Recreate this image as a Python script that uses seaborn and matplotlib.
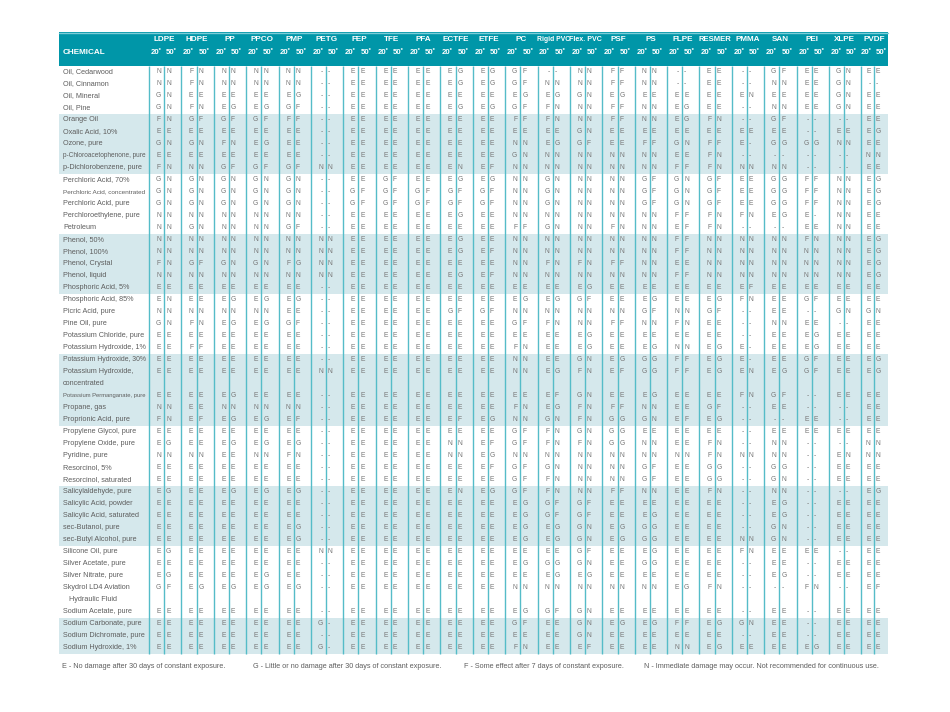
import numpy as np
import matplotlib
matplotlib.use("Agg")
import matplotlib.pyplot as plt
from matplotlib.colors import ListedColormap
from matplotlib.patches import Rectangle
import seaborn as sns

# --- data -------------------------------------------------------------
materials = ["LDPE", "HDPE", "PP", "PPCO", "PMP", "PETG", "FEP", "TFE", "PFA", "ECTFE",
             "ETFE", "PC", "Rigid PVC", "Flex. PVC", "PSF", "PS", "FLPE", "RESMER",
             "PMMA", "SAN", "PEI", "XLPE", "PVDF"]
temps = ["20˚", "50˚"]

chemicals = [
    "Oil, Cedarwood", "Oil, Cinnamon", "Oil, Mineral", "Oil, Pine",
    "Orange Oil", "Oxalic Acid, 10%", "Ozone, pure", "p-Chloroacetophenone, pure",
    "p-Dichlorobenzene, pure", "Perchloric Acid, 70%", "Perchloric Acid, concentrated",
    "Perchloric Acid, pure", "Perchloroethylene, pure", "Petroleum", "Phenol, 50%",
    "Phenol, 100%", "Phenol, Crystal", "Phenol, liquid", "Phosphoric Acid, 5%",
    "Phosphoric Acid, 85%", "Picric Acid, pure", "Pine Oil, pure",
    "Potassium Chloride, pure", "Potassium Hydroxide, 1%", "Potassium Hydroxide, 30%",
    "Potassium Hydroxide,\nconcentrated", "Potassium Permanganate, pure", "Propane, gas",
    "Proprionic Acid, pure", "Propylene Glycol, pure", "Propylene Oxide, pure",
    "Pyridine, pure", "Resorcinol, 5%", "Resorcinol, saturated", "Salicylaldehyde, pure",
    "Salicylic Acid, powder", "Salicylic Acid, saturated", "sec-Butanol, pure",
    "sec-Butyl Alcohol, pure", "Silicone Oil, pure", "Silver Acetate, pure",
    "Silver Nitrate, pure", "Skydrol LD4 Aviation\n   Hydraulic Fluid",
    "Sodium Acetate, pure", "Sodium Carbonate, pure", "Sodium Dichromate, pure",
    "Sodium Hydroxide, 1%",
]

# one pair (20˚, 50˚) per material, in the order of `materials`
ratings = [
    "NN FN NN NN NN -- EE EE EE EG EG GF -- NN FF NN -- EE -- GF EE GN EE",
    "NN FN NN NN NN -- EE EE EE EG EG GF NN NN FF NN -- EE -- NN EE GN --",
    "GN EE EE EE EG -- EE EE EE EE EE EG EG GN EG EE EE EE EN EE EE GN EE",
    "GN FN EG EG GF -- EE EE EE EG EG GF FN NN FF NN EG EE -- NN EE GN EE",
    "FN GF GF GF FF -- EE EE EE EE EE FF FN NN FF NN EG FN -- GF -- -- EE",
    "EE EE EE EE EE -- EE EE EE EE EE EE EE GN EE EE EE EE EE EE -- EE EG",
    "GN GN FN EG EE -- EE EE EE EE EE NN EG GF EE FF GN FF E- GG GG NN EE",
    "EE EE EE EE EE -- EE EE EE EE EE GN NN NN NN NN EE FN -- -- -- -- NN",
    "FN NN GF GF GF NN EE EE EE EN EF NN NN NN NN NN FF FN NN NN -- -- EE",
    "GN GN GN GN GN -- EE GF EE EG EG NN GN NN NN GF GN GF EE GG FF NN EG",
    "GN GN GN GN GN -- GF GF GF GF GF NN GN NN NN GF GN GF EE GG FF NN EG",
    "GN GN GN GN GN -- GF GF GF GF GF NN GN NN NN GF GN GF EE GG FF NN EG",
    "NN NN NN NN NN -- EE EE EE EG EE NN NN NN NN NN FF FN FN EG E- NN EE",
    "NN GN NN NN GF -- EE EE EE EE EE FF GN NN FN NN EF FN -- -- EE NN EE",
    "NN NN NN NN NN NN EE EE EE EG EE NN NN NN NN NN FF NN NN NN FN NN EG",
    "NN NN NN NN NN NN EE EE EE EG EF NN NN NN NN NN FF NN NN NN NN NN EG",
    "FN GF GN GN FG NN EE EE EE EE EE NN FN FN FF NN EE NN NN NN NN NN EG",
    "NN NN NN NN NN NN EE EE EE EG EF NN NN NN NN NN FF NN NN NN NN NN EG",
    "EE EE EE EE EE -- EE EE EE EE EE EE EE EG EE EE EE EE EF EE EE EE EE",
    "EN EE EG EG EG -- EE EE EE EE EE EG EG GF EE EG EE EG FN EE GF EE EE",
    "NN NN NN NN EE -- EE EE EE GF GF NN NN NN NN GF NN GF -- EE -- GN GN",
    "GN FN EG EG GF -- EE EE EE EE EE GF FN NN FF NN FN EE -- NN EE -- EE",
    "EE EE EE EE EE -- EE EE EE EE EE EE EE EG EE EE EE EE -- EE EG EE EE",
    "EE FF EE EE EE -- EE EE EE EE EE FN EE EG EE EG NN EG E- EE EG EE EE",
    "EE EE EE EE EE -- EE EE EE EE EE NN EE GN EG GG FF EG E- EE GF EE EG",
    "EE EE EE EE EE NN EE EE EE EE EE NN EG FN EF GG FF EG EN EG GF EE EG",
    "EE EE EG EE EE -- EE EE EE EE EE EE EF GN EE EG EE EE FN GF -- EE EE",
    "NN EE NN NN NN -- EE EE EE EE EE FN EG FN FF NN EE GF -- EE -- -- EE",
    "FN EF EG EG EF -- EE EE EE EF EG NN GN FN GG GN EF EG -- -- EE -- EE",
    "EE EE EE EE EE -- EE EE EE EE EE GF FN GN GG EE EE EE -- EE EE EE EE",
    "EG EE EG EG EG -- EE EE EE NN EF GF FN FN GG NN EE FN -- NN -- -- NN",
    "NN NN EE NN FN -- EE EE EE NN EG NN NN NN NN NN NN FN NN NN -- EN NN",
    "EE EE EE EE EE -- EE EE EE EE EF GF GN NN NN GF EE GG -- GG -- EE EE",
    "EE EE EE EE EE -- EE EE EE EE EE GF FN NN NN GF EE GG -- GN -- EE EE",
    "EG EE EG EG EG -- EE EE EE EN EG GF FN NN FF NN EE FN -- NN -- -- EG",
    "EE EE EE EE EE -- EE EE EE EE EE EG GF GF EE EE EE EE -- EG -- EE EE",
    "EE EE EE EE EE -- EE EE EE EE EE EG GF GF EE EG EE EE -- EG -- EE EE",
    "EE EE EE EE EG -- EE EE EE EE EE EG EG GN EG GG EE EE -- GN -- EE EE",
    "EE EE EE EE EG -- EE EE EE EE EE EG EG GN EG GG EE EE NN GN -- EE EE",
    "EG EE EE EE EE NN EE EE EE EE EE EE EE GF EE EG EE EE FN EE EE -- EE",
    "EE EE EE EE EE -- EE EE EE EE EE EG GG GN EE GG EE EE -- EE -- EE EE",
    "EG EE EE EG EE -- EE EE EE EE EE EE EG EG EE EE EE EE -- EG -- EE EE",
    "GF EG EG EG EG -- EE EE EE EE EE NN NN NN NN NN EG FN -- -- FN -- EF",
    "EE EE EE EE EE -- EE EE EE EE EE EG GF GN EE EE EE EE -- EE -- EE EE",
    "EE EE EE EE EE G- EE EE EE EE EE GF EE GN EG EG FF EG GN EE -- EE EE",
    "EE EE EE EE EE -- EE EE EE EE EE EE EE GN EE EE EE EE -- EE -- EE EE",
    "EE EE EE EE EE G- EE EE EE EE EE FN EE EF EE EE NN EG EE EE EG EE EE",
]

legend_notes = [
    "E - No damage after 30 days of constant exposure.",
    "G - Little or no damage after 30 days of constant exposure.",
    "F - Some effect after 7 days of constant exposure.",
    "N - Immediate damage may occur. Not recommended for continuous use.",
]

# --- style ------------------------------------------------------------
sns.set_theme(style="white")
plt.rcParams["font.family"] = ["Liberation Sans", "DejaVu Sans"]

TEAL = "#0096a8"
BAND = "#d5e8ec"
RULE = "#55bcc8"
TXT = "#5e5e5e"
LET = "#767676"

W, H = 950, 712
x0, x1 = 59, 888
y_head, y_body, pitch = 32, 66, 12.0
chem_right = 149
grp_w = 32.38

n_lines = [c.count("\n") + 1 for c in chemicals]
total = sum(n_lines)
# rows shaded in blocks of five
shade = np.repeat([((i + 1) // 5) % 2 for i in range(len(chemicals))], n_lines)

fig = plt.figure(figsize=(9.5, 7.12), dpi=100)

# row banding drawn as a one-column heatmap underneath the table body
ax_bg = fig.add_axes([x0 / W, 1 - (y_body + total * pitch) / H,
                      (x1 - x0) / W, total * pitch / H])
sns.heatmap(shade.reshape(-1, 1), ax=ax_bg, cmap=ListedColormap(["white", BAND]),
            vmin=0, vmax=1, cbar=False, xticklabels=False, yticklabels=False)
ax_bg.set_axis_off()

ax = fig.add_axes([0, 0, 1, 1], zorder=2)
ax.set_xlim(0, W)
ax.set_ylim(H, 0)
ax.set_axis_off()
ax.patch.set_alpha(0)

fig.canvas.draw()
renderer = fig.canvas.get_renderer()


def fit(t, max_w):
    # shrink a text until it fits into max_w pixels
    wpx = t.get_window_extent(renderer).width
    if wpx > max_w:
        t.set_fontsize(t.get_fontsize() * max_w / wpx)


# header band
ax.add_patch(Rectangle((x0, y_head), x1 - x0, y_body - y_head, color=TEAL, lw=0))
ax.plot([x0, x1], [y_head + 0.5] * 2, color="#7ccdd7", lw=1)
ax.text(63, 53, "CHEMICAL", color="white", fontsize=5.9, fontweight="bold",
        ha="left", va="center")

y_end = y_body + total * pitch
for k, mat in enumerate(materials):
    sx = chem_right + k * grp_w
    w = grp_w if k < len(materials) - 1 else x1 - sx
    mid = sx + 0.47 * w
    ax.vlines([sx, mid], y_body, y_end, color=RULE, lw=1.0)
    t = ax.text(sx + w / 2 - 0.5, 39.5, mat, color="white", fontsize=5.9,
                fontweight="bold", ha="center", va="center")
    fit(t, 32.5)
    ax.text(mid - 8, 53, temps[0], color="white", fontsize=5.6, fontweight="bold",
            ha="center", va="center")
    ax.text(mid + 7.5, 53, temps[1], color="white", fontsize=5.6, fontweight="bold",
            ha="center", va="center")

line = 0
for name, rate, n in zip(chemicals, ratings, n_lines):
    yc = y_body + line * pitch + 5.8
    for j, part in enumerate(name.split("\n")):
        t = ax.text(63, yc + j * pitch, part, color=TXT, fontsize=5.2,
                    ha="left", va="center")
        fit(t, 83)
    for k, pair in enumerate(rate.split()):
        sx = chem_right + k * grp_w
        w = grp_w if k < len(materials) - 1 else x1 - sx
        mid = sx + 0.47 * w
        ax.text(mid - 3.2, yc, pair[0], color=LET, fontsize=4.9, ha="right", va="center")
        ax.text(mid + 1.8, yc, pair[1], color=LET, fontsize=4.9, ha="left", va="center")
    line += n

for note, lx in zip(legend_notes, [62, 253, 464, 644]):
    ax.text(lx, 666, note, color=TXT, fontsize=5.2, ha="left", va="center")

fig.savefig("out.png", dpi=100)
